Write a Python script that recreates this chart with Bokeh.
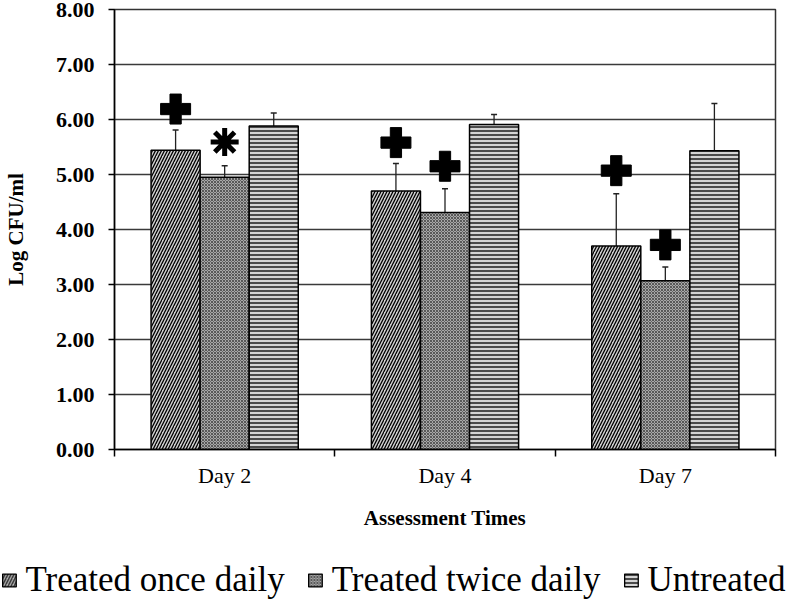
from bokeh.plotting import figure
from bokeh.layouts import column
from bokeh.models import (ColumnDataSource, Whisker, TeeHead, FixedTicker, NumeralTickFormatter,
                          Legend, LegendItem, Range1d)
from bokeh.embed import file_html
from bokeh.resources import INLINE

days = ["Day 2", "Day 4", "Day 7"]
groups = ["Treated once daily", "Treated twice daily", "Untreated"]
once = [5.44, 4.70, 3.70]
twice = [4.95, 4.31, 3.07]
untreated = [5.88, 5.91, 5.43]
once_sd = [0.37, 0.50, 0.95]
twice_sd = [0.21, 0.43, 0.25]
untreated_sd = [0.24, 0.18, 0.86]
once_mark_y = [6.19, 5.58, 5.07]
once_mark = ["plus", "plus", "plus"]
twice_mark_y = [5.59, 5.15, 3.72]
twice_mark = ["asterisk", "plus", "plus"]
y_ticks = [0, 1, 2, 3, 4, 5, 6, 7, 8]

FONT = "Liberation Serif"
W = 786
bar_w = 0.2227
offsets = [-bar_w, 0.0, bar_w]

p = figure(width=W, height=532, output_backend="svg", toolbar_location=None,
           x_range=Range1d(0, 3), y_range=Range1d(0, 8),
           min_border_top=9, min_border_right=11, min_border_left=0, min_border_bottom=0)
p.background_fill_color = "white"
p.border_fill_color = "white"
p.outline_line_color = "#333333"
p.outline_line_width = 1.5

styles = [
    dict(fill_color="#d0d0d0", hatch_pattern="/", hatch_color="black", hatch_scale=6, hatch_weight=1.3),
    dict(fill_color="#a8a8a8", hatch_pattern="x", hatch_color="#444444", hatch_scale=3, hatch_weight=0.8),
    dict(fill_color="#d4d4d4", hatch_pattern="-", hatch_color="black", hatch_scale=4, hatch_weight=1.3),
]
series = [once, twice, untreated]
sds = [once_sd, twice_sd, untreated_sd]

for k in range(3):
    xs = [i + 0.5 + offsets[k] for i in range(len(days))]
    vals = series[k]
    src = ColumnDataSource(dict(x=xs, top=vals,
                                upper=[v + s for v, s in zip(vals, sds[k])],
                                lower=[v - s for v, s in zip(vals, sds[k])]))
    p.vbar(x="x", top="top", bottom=0, width=bar_w, source=src,
           line_color="black", line_width=1.5, **styles[k])
    w = Whisker(base="x", upper="upper", lower="lower", source=src,
                line_color="#222222", line_width=1.3,
                upper_head=TeeHead(size=6, line_color="#222222", line_width=1.5),
                lower_head=TeeHead(size=6, line_color="#222222", line_width=1.5))
    p.add_layout(w)

# significance markers
for k, (ys, marks) in enumerate([(once_mark_y, once_mark), (twice_mark_y, twice_mark)]):
    for i in range(len(days)):
        x = i + 0.5 + offsets[k]
        if marks[i] == "plus":
            p.scatter([x], [ys[i]], marker="plus", size=30, fill_color="black", line_color="black")
        else:
            p.scatter([x], [ys[i]], marker="asterisk", size=28, line_color="black", line_width=5)

# axes
p.xgrid.visible = False
p.ygrid.ticker = FixedTicker(ticks=y_ticks)
p.ygrid.grid_line_color = "#3a3a3a"
p.ygrid.grid_line_width = 1.6

ya = p.yaxis[0]
ya.ticker = FixedTicker(ticks=y_ticks)
ya.formatter = NumeralTickFormatter(format="0.00")
ya.major_tick_out = 6
ya.major_tick_in = 0
ya.minor_tick_out = 0
ya.minor_tick_in = 0
ya.axis_line_color = "black"
ya.axis_line_width = 1.5
ya.major_tick_line_width = 1.5
ya.major_label_standoff = 14
ya.major_label_text_font = FONT
ya.major_label_text_font_style = "bold"
ya.major_label_text_font_size = "22px"
ya.major_label_text_color = "black"
ya.axis_label = "Log CFU/ml"
ya.axis_label_text_font = FONT
ya.axis_label_text_font_style = "bold"
ya.axis_label_text_font_size = "21px"
ya.axis_label_text_color = "black"
ya.axis_label_standoff = 25

xa = p.xaxis[0]
xa.ticker = FixedTicker(ticks=[i + 0.5 for i in range(len(days))],
                        minor_ticks=[float(i) for i in range(len(days) + 1)])
xa.major_label_overrides = {i + 0.5: d for i, d in enumerate(days)}
xa.major_tick_out = 0
xa.major_tick_in = 0
xa.minor_tick_out = 7
xa.minor_tick_in = 0
xa.minor_tick_line_color = "black"
xa.minor_tick_line_width = 1.5
xa.axis_line_color = "black"
xa.axis_line_width = 1.5
xa.major_label_standoff = 6
xa.major_label_text_font = FONT
xa.major_label_text_font_size = "22px"
xa.major_label_text_color = "black"
xa.axis_label = "Assessment Times"
xa.axis_label_text_font = FONT
xa.axis_label_text_font_style = "bold"
xa.axis_label_text_font_size = "21px"
xa.axis_label_text_color = "black"
xa.axis_label_standoff = 15

# legend strip
lg = figure(width=W, height=68, output_backend="svg", toolbar_location=None,
            x_range=Range1d(0, 1), y_range=Range1d(0, 1),
            x_axis_location=None, y_axis_location=None,
            min_border_left=0, min_border_right=0, min_border_top=0, min_border_bottom=0)
lg.grid.visible = False
lg.outline_line_color = None
lg.border_fill_color = "white"
lg.background_fill_color = "white"
for fig in (p, lg):
    if "frame_align" in fig.properties():
        fig.frame_align = False
items = []
for k in range(3):
    r = lg.vbar(x=[50.0], top=[-5.0], bottom=-6.0, width=0.1, line_color="black", line_width=1.3, **styles[k])
    items.append(LegendItem(label=groups[k], renderers=[r]))
legend = Legend(items=items, orientation="horizontal", location="bottom_center",
                glyph_width=17, glyph_height=16, label_standoff=8, spacing=22,
                label_text_font=FONT, label_text_font_size="35px", label_text_color="black",
                border_line_color=None, padding=0, margin=0, background_fill_alpha=0)
legend.label_height = 36
lg.add_layout(legend)

layout = column(p, lg, spacing=0)
open("out.html", "w").write(file_html(layout, INLINE))
